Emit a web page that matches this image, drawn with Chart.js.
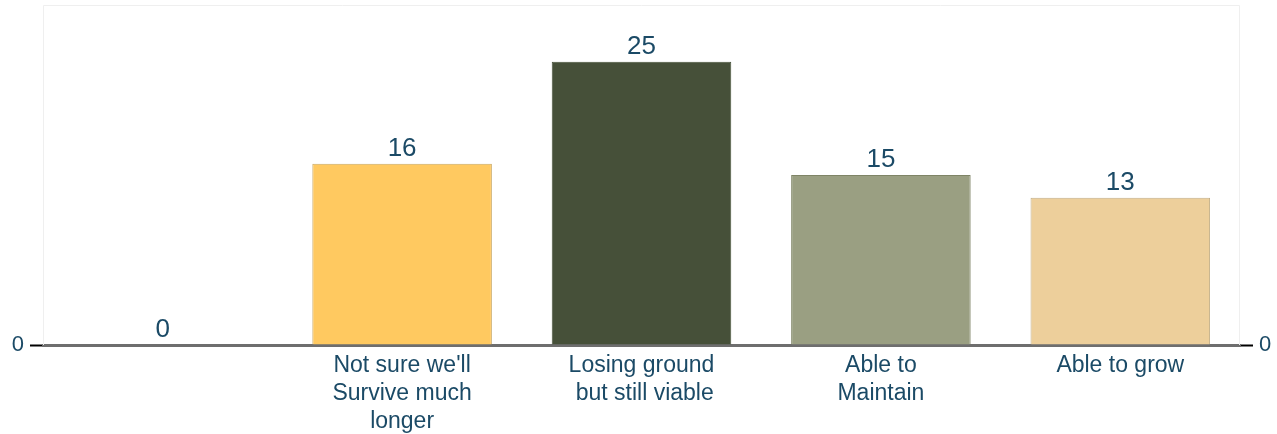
<!DOCTYPE html>
<html>
<head>
<meta charset="utf-8">
<script src="https://cdn.jsdelivr.net/npm/chart.js@4/dist/chart.umd.min.js"></script>
<style>
  html, body { margin: 0; padding: 0; background: #fff; }
  #wrap { width: 1277px; height: 434px; }
</style>
</head>
<body>
<div id="wrap"><canvas id="chart" width="1277" height="434"></canvas></div>
<script>
// data
const categories = [
  "",
  ["Not sure we'll", "Survive much", "longer"],
  ["Losing ground", " but still viable"],
  ["Able to", "Maintain"],
  "Able to grow"
];
const values = [0, 16, 25, 15, 13];
const barColors = ["#FFC960", "#FFC960", "#465039", "#9A9F82", "#EDCF9B"];
const barBorders = ["#C9A862", "#C9A862", "#465039", "#7F8466", "#C2AD86"];
const yTicks = [0];

const textColor = "#1B4A66";
const fontFamily = "'Liberation Sans', Arial, sans-serif";

// valeurs au-dessus des barres
const valueLabels = {
  id: "valueLabels",
  afterDatasetsDraw(chart) {
    const ctx = chart.ctx;
    const meta = chart.getDatasetMeta(0);
    ctx.save();
    ctx.font = "26px " + fontFamily;
    ctx.fillStyle = textColor;
    ctx.textAlign = "center";
    ctx.textBaseline = "alphabetic";
    meta.data.forEach((bar, i) => {
      ctx.fillText(String(values[i]), bar.x, bar.y - 8);
    });
    ctx.restore();
  }
};

// cadre léger autour de la zone du graphique
const frame = {
  id: "frame",
  beforeDatasetsDraw(chart) {
    const a = chart.chartArea;
    const ctx = chart.ctx;
    ctx.save();
    ctx.strokeStyle = "#EFEFEF";
    ctx.lineWidth = 1;
    ctx.beginPath();
    ctx.moveTo(a.left + 0.5, a.bottom);
    ctx.lineTo(a.left + 0.5, a.top + 0.5);
    ctx.lineTo(a.right - 0.5, a.top + 0.5);
    ctx.lineTo(a.right - 0.5, a.bottom);
    ctx.stroke();
    ctx.restore();
  }
};

const yAxisCommon = {
  min: 0,
  max: 30,
  afterBuildTicks: (scale) => { scale.ticks = yTicks.map(v => ({ value: v })); },
  grid: {
    drawOnChartArea: false,
    drawTicks: true,
    tickLength: 13,
    tickColor: "#000",
    tickWidth: 2
  },
  border: { display: false },
  ticks: {
    color: textColor,
    padding: 6,
    font: { size: 22, family: fontFamily }
  }
};

const ctx = document.getElementById("chart").getContext("2d");
new Chart(ctx, {
  type: "bar",
  data: {
    labels: categories,
    datasets: [{
      data: values,
      backgroundColor: barColors,
      borderColor: barBorders,
      borderWidth: 1,
      categoryPercentage: 1,
      barPercentage: 0.75
    }]
  },
  options: {
    responsive: false,
    animation: false,
    layout: { padding: { top: 5, left: 0, right: 0, bottom: 0 } },
    plugins: {
      legend: { display: false },
      tooltip: { enabled: false }
    },
    scales: {
      x: {
        grid: { display: false },
        border: { display: true, color: "#6E6E6E", width: 3 },
        ticks: {
          color: textColor,
          padding: -1,
          maxRotation: 0,
          autoSkip: false,
          font: { size: 23, family: fontFamily, lineHeight: 1.22 }
        },
        afterFit: (scale) => { scale.height = 89; scale.paddingLeft = 0; scale.paddingRight = 0; }
      },
      y: Object.assign({}, yAxisCommon, {
        position: "left",
        afterFit: (scale) => { scale.width = 43; scale.paddingTop = 0; scale.paddingBottom = 0; }
      }),
      y2: Object.assign({}, yAxisCommon, {
        position: "right",
        afterFit: (scale) => { scale.width = 37; scale.paddingTop = 0; scale.paddingBottom = 0; }
      })
    }
  },
  plugins: [frame, valueLabels]
});
</script>
</body>
</html>
